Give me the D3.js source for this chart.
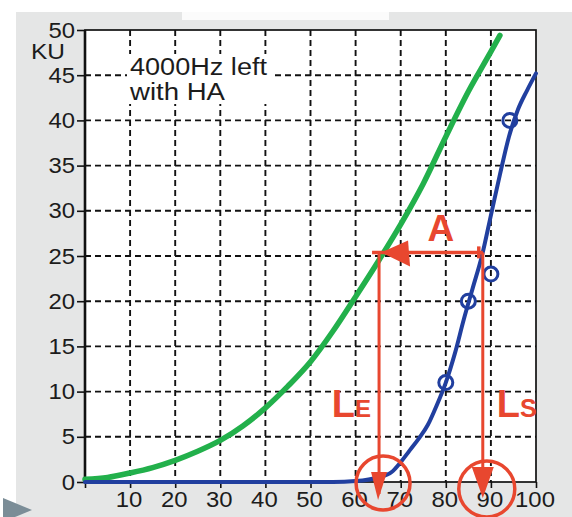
<!DOCTYPE html>
<html>
<head>
<meta charset="utf-8">
<script src="https://cdn.jsdelivr.net/npm/d3@7"></script>
<style>
  body { margin: 0; background: #fff; }
  svg { display: block; }
  text { font-family: "Liberation Sans", Arial, sans-serif; }
</style>
</head>
<body>
<svg id="chart" width="572" height="517"></svg>
<script>
// Categorical loudness growth (KU) against level, 4000 Hz, left ear, with hearing aid.

// Normal-hearing reference curve
const levelsNormal = [0, 5, 10, 15, 20, 25, 30, 35, 40, 45, 50, 55, 60, 65, 70, 75, 80, 85, 90, 92];
const kuNormal     = [0.3, 0.5, 1.0, 1.6, 2.4, 3.4, 4.6, 6.2, 8.2, 10.6, 13.3, 16.7, 20.5, 24.4, 28.5, 33.0, 38.2, 43.2, 47.6, 49.4];

// Fitted curve of the aided ear
const levelsAided = [0, 55, 60, 65, 68, 70, 72, 74, 76, 78, 80, 82, 84, 86, 88, 90, 92, 94, 96, 98, 100];
const kuAided     = [0, 0, 0.1, 0.5, 1.1, 2.2, 3.5, 4.8, 6.3, 8.5, 11, 14.2, 18, 21.5, 25, 29.5, 34, 38.2, 41.2, 43.3, 45.2];

// Measured responses of the aided ear
const measuredLevels = [80, 85, 90, 94.2];
const measuredKU     = [11, 20, 23, 40];

// Axis ticks
const xTicks = [0, 10, 20, 30, 40, 50, 60, 70, 80, 90, 100];
const yTicks = [0, 5, 10, 15, 20, 25, 30, 35, 40, 45, 50];

// Level difference A at equal loudness
const refKU = 25.4;
const levelE = 65.2;
const levelS = 88.2;

const svg = d3.select("#chart");
const W = 572, H = 517;

const x = d3.scaleLinear().domain([0, 100]).range([85, 536]);
const y = d3.scaleLinear().domain([0, 50]).range([482, 30]);

const RED = "#e8472f", BLUE = "#213f9f", GREEN = "#22b04b", GREY = "#e5e6e6", INK = "#1c1c1c";

// Page background
svg.append("rect").attr("x", 16).attr("y", 12).attr("width", W - 16).attr("height", H - 12).attr("fill", GREY);
svg.append("rect").attr("x", 182).attr("y", 12).attr("width", 207).attr("height", 8).attr("fill", "#fbfbfb");
svg.append("path").attr("d", "M3,498 L32,510 L3,522 Z").attr("fill", "#7b8d97");

// Plot area
svg.append("rect")
  .attr("x", x(0)).attr("y", y(50))
  .attr("width", x(100) - x(0)).attr("height", y(0) - y(50))
  .attr("fill", "#fff");

// Dashed grid
const grid = svg.append("g").attr("stroke", "#111").attr("stroke-width", 1.9).attr("stroke-dasharray", "6,4");
grid.selectAll("line.v").data(xTicks.filter(d => d > 0 && d < 100)).join("line")
  .attr("class", "v")
  .attr("x1", d => x(d)).attr("x2", d => x(d))
  .attr("y1", y(50)).attr("y2", y(0));
grid.selectAll("line.h").data(yTicks.filter(d => d > 0 && d < 50)).join("line")
  .attr("class", "h")
  .attr("x1", x(0)).attr("x2", x(100))
  .attr("y1", d => y(d)).attr("y2", d => y(d));

// Axes
const yAxis = svg.append("g").attr("transform", `translate(${x(0)},0)`)
  .call(d3.axisLeft(y).tickValues(yTicks).tickSize(8).tickPadding(2).tickFormat(d3.format("d")));
const xAxis = svg.append("g").attr("transform", `translate(0,${y(0)})`)
  .call(d3.axisBottom(x).tickValues(xTicks).tickSize(6).tickPadding(3)
    .tickFormat(d => d === 0 ? "" : d));
[yAxis, xAxis].forEach(g => {
  g.select(".domain").remove();
  g.selectAll(".tick line").attr("stroke", "#111").attr("stroke-width", 1.6);
  g.selectAll(".tick text").attr("fill", INK).style("font-size", "22px")
    .attr("lengthAdjust", "spacingAndGlyphs")
    .attr("textLength", function () { return this.textContent.length * 13.3 || null; });
});
xAxis.selectAll(".tick text").attr("dx", "-1.5");

// Frame
svg.append("rect")
  .attr("x", x(0)).attr("y", y(50))
  .attr("width", x(100) - x(0)).attr("height", y(0) - y(50))
  .attr("fill", "none").attr("stroke", "#111").attr("stroke-width", 1.7);
svg.append("line")
  .attr("x1", x(0)).attr("x2", x(0)).attr("y1", y(50)).attr("y2", y(0) + 1)
  .attr("stroke", "#111").attr("stroke-width", 2.6);

// Axis unit and condition labels
svg.append("text").attr("x", 31).attr("y", 59).attr("fill", INK)
  .style("font-size", "22px").attr("textLength", 34).attr("lengthAdjust", "spacingAndGlyphs")
  .text("KU");
svg.append("rect").attr("x", 127).attr("y", 54).attr("width", 146).attr("height", 50).attr("fill", "#fff");
svg.append("text").attr("x", 130).attr("y", 75).attr("fill", INK)
  .style("font-size", "23px").attr("textLength", 137).attr("lengthAdjust", "spacingAndGlyphs")
  .text("4000Hz left");
svg.append("text").attr("x", 130).attr("y", 100).attr("fill", INK)
  .style("font-size", "23px").attr("textLength", 95).attr("lengthAdjust", "spacingAndGlyphs")
  .text("with HA");

// Curves
const line = d3.line().x(d => x(d[0])).y(d => y(d[1])).curve(d3.curveMonotoneX);
svg.append("path")
  .datum(d3.zip(levelsNormal, kuNormal))
  .attr("d", line)
  .attr("fill", "none").attr("stroke", GREEN).attr("stroke-width", 5.5)
  .attr("stroke-linecap", "round").attr("stroke-linejoin", "round");
svg.append("path")
  .datum(d3.zip(levelsAided, kuAided))
  .attr("d", line)
  .attr("fill", "none").attr("stroke", BLUE).attr("stroke-width", 4)
  .attr("stroke-linecap", "round").attr("stroke-linejoin", "round");

// Measured points
svg.append("g").selectAll("circle").data(d3.zip(measuredLevels, measuredKU)).join("circle")
  .attr("cx", d => x(d[0])).attr("cy", d => y(d[1])).attr("r", 7)
  .attr("fill", "none").attr("stroke", BLUE).attr("stroke-width", 3);

// Annotation: level difference A and the two levels LE / LS
const ann = svg.append("g");
const yA = y(refKU), xE = x(levelE), xS = x(levelS), y0 = y(0);

ann.append("line").attr("x1", xE - 7).attr("x2", xS).attr("y1", yA).attr("y2", yA)
  .attr("stroke", RED).attr("stroke-width", 3.5);
ann.append("line").attr("x1", xS - 4).attr("x2", xS - 4).attr("y1", yA - 6).attr("y2", yA + 6)
  .attr("stroke", RED).attr("stroke-width", 3.5);
ann.append("path")
  .attr("d", `M${xE + 2},${yA} L${xE + 29},${yA - 12} L${xE + 31},${yA + 14} Z`)
  .attr("fill", RED);

ann.append("line").attr("x1", xE).attr("x2", xE).attr("y1", yA).attr("y2", y0 + 12)
  .attr("stroke", RED).attr("stroke-width", 3);
ann.append("path")
  .attr("d", `M${xE - 8},${y0 - 10} L${xE + 8},${y0 - 10} L${xE - 1},${y0 + 18} Z`)
  .attr("fill", RED);

ann.append("line").attr("x1", xS).attr("x2", xS).attr("y1", yA).attr("y2", y0 + 10)
  .attr("stroke", RED).attr("stroke-width", 3);
ann.append("path")
  .attr("d", `M${xS - 11},${y0 - 15} L${xS + 11},${y0 - 15} L${xS},${y0 + 16} Z`)
  .attr("fill", RED);

ann.append("circle").attr("cx", xE + 4).attr("cy", y0 + 1).attr("r", 27)
  .attr("fill", "none").attr("stroke", RED).attr("stroke-width", 3.5);
ann.append("circle").attr("cx", xS + 4).attr("cy", y0 + 7).attr("r", 28)
  .attr("fill", "none").attr("stroke", RED).attr("stroke-width", 3.5);

ann.append("text").attr("x", (xE + xS) / 2 + 10).attr("y", yA - 11)
  .attr("text-anchor", "middle").attr("fill", RED)
  .style("font-size", "37px").style("font-weight", "bold").text("A");

const lE = ann.append("text").attr("x", xE - 8).attr("y", y0 - 65)
  .attr("text-anchor", "end").attr("fill", RED).style("font-weight", "bold");
lE.append("tspan").style("font-size", "38px").text("L");
lE.append("tspan").style("font-size", "24px").text("E");

const lS = ann.append("text").attr("x", xS + 14).attr("y", y0 - 65)
  .attr("fill", RED).style("font-weight", "bold");
lS.append("tspan").style("font-size", "38px").text("L");
lS.append("tspan").style("font-size", "25px").text("S");
</script>
</body>
</html>
